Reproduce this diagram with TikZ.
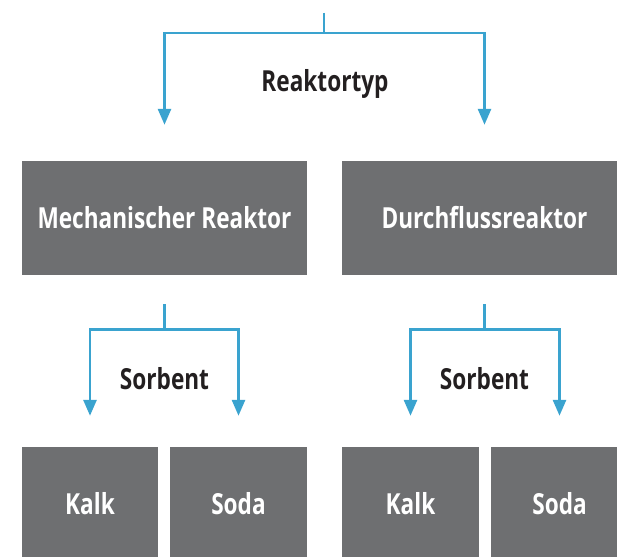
\documentclass[tikz,border=0pt]{standalone}
\usepackage{fontspec}
\setmainfont{Open Sans}[FakeStretch=0.78]
\usetikzlibrary{arrows.meta}

\definecolor{flowblue}{RGB}{58,163,207}
\definecolor{boxgray}{RGB}{110,111,113}
\definecolor{textblack}{RGB}{35,31,32}

\tikzset{
  box/.style={fill=boxgray, text=white, inner sep=0pt, minimum height=114pt,
    font=\bfseries\fontsize{29}{34}\selectfont},
  branchtext/.style={text=textblack, inner sep=0pt, anchor=base,
    font=\bfseries\fontsize{29}{34}\selectfont},
  flow/.style={draw=flowblue, line width=2.8pt,
    -{Triangle[length=16pt,width=13pt]}, color=flowblue}
}

\begin{document}
\begin{tikzpicture}[x=1pt,y=-1pt]
\path[use as bounding box, clip] (0,0) rectangle (617,556);

% reactor boxes
\node[box, minimum width=285pt] (mech) at (164.5,218) {Mechanischer Reaktor};
\node[box, minimum width=285pt] (dfr) at (484.5,218) {Durchflussreaktor};

% sorbent boxes
\node[box, minimum width=136pt] (kalka) at (90,504) {Kalk};
\node[box, minimum width=137pt] (sodaa) at (238.5,504) {Soda};
\node[box, minimum width=137pt] (kalkb) at (410.5,504) {Kalk};
\node[box, minimum width=137pt] (sodab) at (559.5,504) {Soda};

% texts at the branches
\node[branchtext] (typ) at (325,92) {Reaktortyp};
\node[branchtext] (sorba) at (164.5,389) {Sorbent};
\node[branchtext] (sorbb) at (484.5,389) {Sorbent};

% connectors
\coordinate (in) at (324,13);
\draw[flow, shorten >=36pt] (in) -- ++(0,20) -| (mech.north);
\draw[flow, shorten >=36pt] (in) -- ++(0,20) -| (dfr.north);

\coordinate (ma) at ([yshift=-29pt]mech.south);
\draw[flow, shorten >=31pt] (ma) -- ++(0,25) -| (kalka.north);
\draw[flow, shorten >=31pt] (ma) -- ++(0,25) -| (sodaa.north);

\coordinate (mb) at ([yshift=-29pt]dfr.south);
\draw[flow, shorten >=31pt] (mb) -- ++(0,25) -| (kalkb.north);
\draw[flow, shorten >=31pt] (mb) -- ++(0,25) -| (sodab.north);
\end{tikzpicture}
\end{document}
